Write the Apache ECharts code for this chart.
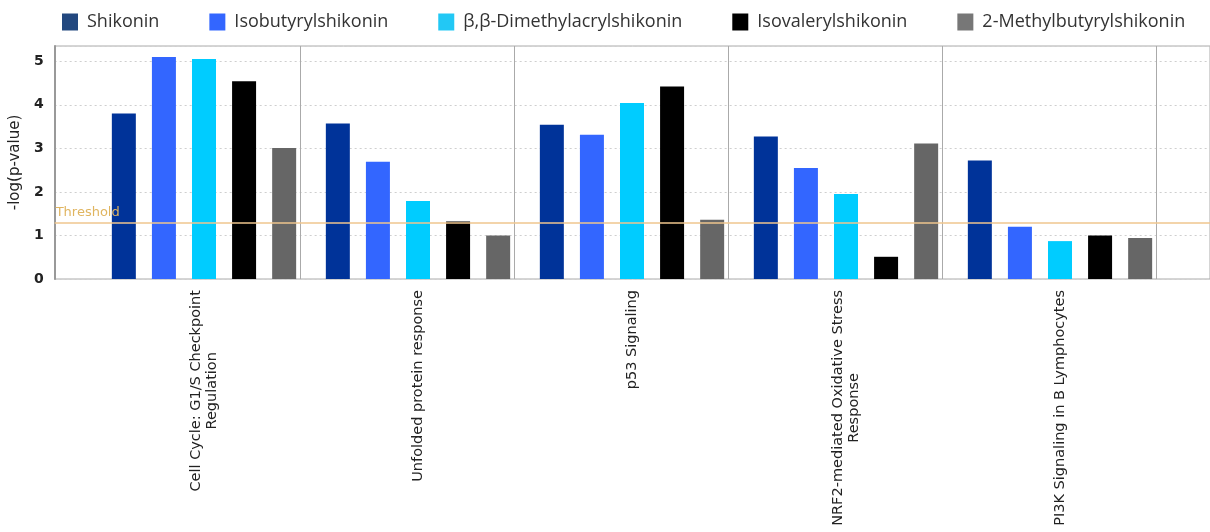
<!DOCTYPE html>
<html>
<head>
<meta charset="utf-8">
<script src="https://cdn.jsdelivr.net/npm/echarts@6/dist/echarts.min.js"></script>
<style>
html,body{margin:0;padding:0;background:#fff;}
#chart{width:1210px;height:532px;}
</style>
</head>
<body>
<div id="chart"></div>
<script>
const categories = [
  "Cell Cycle: G1/S Checkpoint\nRegulation",
  "Unfolded protein response",
  "p53 Signaling",
  "NRF2-mediated Oxidative Stress\nResponse",
  "PI3K Signaling in B Lymphocytes"
];
const seriesNames = ["Shikonin", "Isobutyrylshikonin", "\u03b2,\u03b2-Dimethylacrylshikonin", "Isovalerylshikonin", "2-Methylbutyrylshikonin"];
const shikonin = [3.80, 3.57, 3.54, 3.27, 2.72];
const isobutyryl = [5.10, 2.69, 3.31, 2.55, 1.20];
const dimethylacryl = [5.05, 1.79, 4.04, 1.95, 0.87];
const isovaleryl = [4.54, 1.32, 4.42, 0.51, 1.00];
const methylbutyryl = [3.01, 1.00, 1.36, 3.11, 0.94];
const yTicks = [0, 1, 2, 3, 4, 5];
const threshold = 1.3;

const values = [shikonin, isobutyryl, dimethylacryl, isovaleryl, methylbutyryl];
const barColors = ["#003399", "#3366ff", "#00ccff", "#000000", "#666666"];
const legendColors = ["#22487f", "#3366ff", "#22c8f5", "#000000", "#777777"];
const YMAX = 5.35;
const SEP_OFFSET = 0.45;

const chart = echarts.init(document.getElementById('chart'), null, {renderer: 'canvas'});
const barSeries = seriesNames.map((n, i) => ({
  name: n, type: 'bar', xAxisIndex: 1, yAxisIndex: 1,
  data: values[i], barWidth: 24, barGap: '67%',
  itemStyle: {color: barColors[i]}, z: 2
}));

const option = {
  animation: false,
  backgroundColor: '#fff',
  legend: {
    top: 8, left: 57, itemWidth: 16, itemHeight: 17, itemGap: 50, icon: 'rect',
    textStyle: {fontFamily: 'Open Sans', fontSize: 18, color: '#333', padding: [0, 0, 0, 4]},
    data: seriesNames.map((n, i) => ({name: n, itemStyle: {color: legendColors[i]}}))
  },
  grid: [
    {left: 54, right: -2, top: 46, bottom: 253, show: true, borderColor: '#aaaaaa', borderWidth: 1, backgroundColor: 'transparent'},
    {left: 97, width: 1070, top: 46, bottom: 253}
  ],
  xAxis: [
    {gridIndex: 0, type: 'value', min: 0, max: 1, show: false},
    {gridIndex: 1, type: 'category', data: categories,
      axisLine: {show: false}, axisTick: {show: false}, splitLine: {show: false},
      axisLabel: {
        interval: 0, rotate: 90, margin: 11,
        formatter: v => v.split('\n').map(l => '{c|' + l + '}').join('\n'),
        rich: {c: {align: 'center', fontFamily: 'DejaVu Sans', fontSize: 14.5, color: '#222', lineHeight: 16}}
      }},
    {gridIndex: 1, type: 'value', min: -0.5, max: categories.length - 0.5, show: false}
  ],
  yAxis: [
    {gridIndex: 0, type: 'value', min: 0, max: YMAX, interval: 1,
      name: '-log(p-value)', nameLocation: 'middle', nameGap: 24, nameRotate: 90,
      nameTextStyle: {fontFamily: 'DejaVu Sans', fontSize: 15, color: '#222'},
      axisLine: {show: true, lineStyle: {color: '#999', width: 2}},
      axisTick: {show: false},
      axisLabel: {margin: 11, fontFamily: 'DejaVu Sans', fontSize: 14, fontWeight: 'bold', color: '#222',
        formatter: v => yTicks.includes(v) ? String(v) : ''},
      splitLine: {show: true, lineStyle: {color: '#cfcfcf', type: [2, 3], width: 1}}
    },
    {gridIndex: 1, type: 'value', min: 0, max: YMAX, show: false}
  ],
  series: [
    ...barSeries,
    {name: 'sep', type: 'scatter', xAxisIndex: 2, yAxisIndex: 1, data: [], silent: true,
      markLine: {symbol: 'none', silent: true, animation: false,
        lineStyle: {color: '#aaaaaa', type: 'solid', width: 1},
        label: {show: false},
        data: categories.map((c, i) => ({xAxis: i + SEP_OFFSET}))}},
    {name: 'thr', type: 'scatter', xAxisIndex: 0, yAxisIndex: 0, data: [], silent: true, z: 5,
      markLine: {symbol: 'none', silent: true, animation: false, z: 5,
        lineStyle: {color: '#efc68e', type: 'solid', width: 1.5},
        label: {show: true, position: 'insideStartTop', formatter: 'Threshold', distance: [1, 3],
          fontFamily: 'DejaVu Sans', fontSize: 13, color: '#e0b560'},
        data: [{yAxis: threshold}]}}
  ]
};
chart.setOption(option);
</script>
</body>
</html>
